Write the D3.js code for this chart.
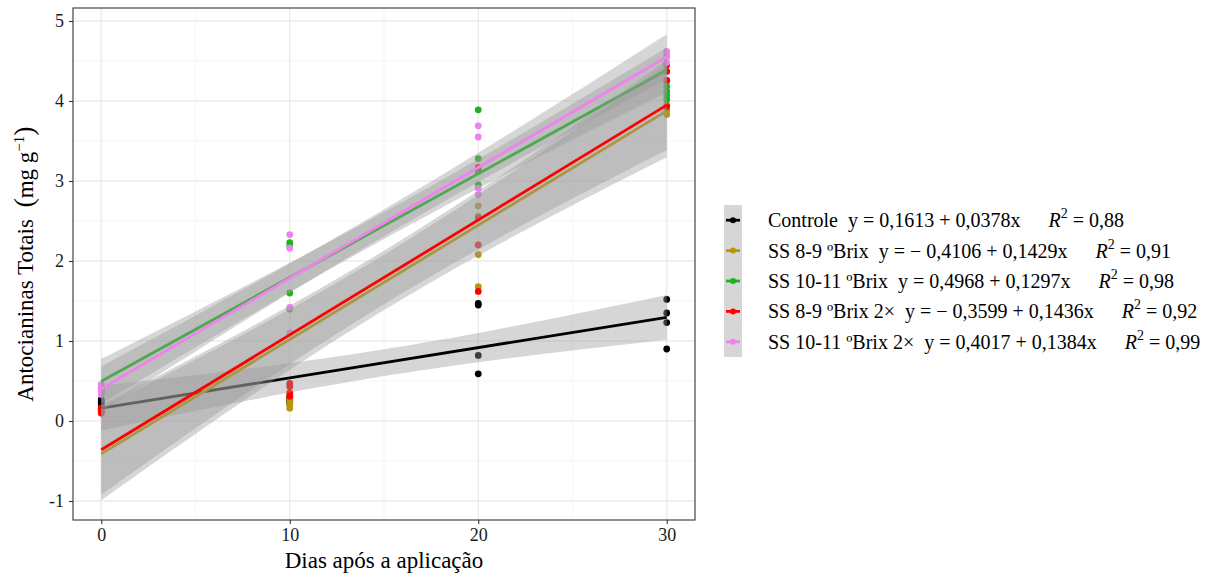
<!DOCTYPE html>
<html>
<head>
<meta charset="utf-8">
<script src="https://cdn.jsdelivr.net/npm/d3@7"></script>
<style>
  body { margin: 0; background: #ffffff; }
  text { font-family: "Liberation Serif", "Times New Roman", serif; white-space: pre; }
</style>
</head>
<body>
<svg id="chart"></svg>
<script>
/* ---- data ---- */
var days = [0, 10, 20, 30]

var series_names = ["Controle", "SS 8-9 ºBrix", "SS 10-11 ºBrix", "SS 8-9 ºBrix 2×", "SS 10-11 ºBrix 2×"]
var series_colors = ["#000000", "#b8960b", "#1fb21f", "#ff0000", "#ee82ee"]

// 4 repetitions per day (days 0, 10, 20, 30)
var controle = [[0.27, 0.25, 0.23, 0.20], [0.30, 0.27, 0.25, 0.22], [1.47, 1.45, 0.82, 0.59], [1.52, 1.35, 1.23, 0.90]]
var ss89 = [[0.15, 0.13, 0.12, 0.10], [0.30, 0.25, 0.20, 0.16], [2.69, 2.56, 2.08, 1.68], [4.24, 3.95, 3.88, 3.83]]
var ss1011 = [[0.45, 0.42, 0.40, 0.38], [2.23, 2.19, 1.60, 1.40], [3.89, 3.28, 3.12, 2.95], [4.18, 4.12, 4.07, 4.02]]
var ss89x2 = [[0.16, 0.14, 0.12, 0.10], [0.47, 0.43, 0.35, 0.31], [3.17, 2.54, 2.20, 1.62], [4.45, 4.37, 4.26, 3.93]]
var ss1011x2 = [[0.45, 0.41, 0.37, 0.33], [2.33, 2.16, 1.42, 1.10], [3.69, 3.55, 2.91, 2.83], [4.62, 4.60, 4.55, 4.48]]

// fitted equations (legend) and confidence band half width at day 0
var intercepts = [0.1613, -0.4106, 0.4968, -0.3599, 0.4017]
var slopes = [0.0378, 0.1429, 0.1297, 0.1436, 0.1384]
var r2 = ["0,88", "0,91", "0,98", "0,92", "0,99"]
var band_hw0 = [0.28, 0.58, 0.28, 0.56, 0.28]

var x_ticks = [0, 10, 20, 30]
var y_ticks = [-1, 0, 1, 2, 3, 4, 5]

var all_values = [controle, ss89, ss1011, ss89x2, ss1011x2]

/* ---- layout ---- */
var width = 1216, height = 573
var panel_left = 73, panel_right = 695, panel_top = 8, panel_bottom = 520

var svg = d3.select("#chart").attr("width", width).attr("height", height)
svg.append("rect").attr("width", width).attr("height", height).attr("fill", "#ffffff")

var x = d3.scaleLinear().domain([-1.5, 31.5]).range([panel_left, panel_right])
var y = d3.scaleLinear().domain([-1.2375, 5.1625]).range([panel_bottom, panel_top])

/* ---- grid ---- */
var grid = svg.append("g")
var minor_x = [5, 15, 25]
var minor_y = [-0.5, 0.5, 1.5, 2.5, 3.5, 4.5]

grid.selectAll(".minx").data(minor_x).enter().append("line")
    .attr("x1", x).attr("x2", x).attr("y1", panel_top).attr("y2", panel_bottom)
    .attr("stroke", "#f2f2f2").attr("stroke-width", 0.8)
grid.selectAll(".miny").data(minor_y).enter().append("line")
    .attr("x1", panel_left).attr("x2", panel_right).attr("y1", y).attr("y2", y)
    .attr("stroke", "#f2f2f2").attr("stroke-width", 0.8)
grid.selectAll(".majx").data(x_ticks).enter().append("line")
    .attr("x1", x).attr("x2", x).attr("y1", panel_top).attr("y2", panel_bottom)
    .attr("stroke", "#ebebeb").attr("stroke-width", 1.4)
grid.selectAll(".majy").data(y_ticks).enter().append("line")
    .attr("x1", panel_left).attr("x2", panel_right).attr("y1", y).attr("y2", y)
    .attr("stroke", "#ebebeb").attr("stroke-width", 1.4)

/* ---- points ---- */
var pts = []
all_values.forEach(function (s, i) {
    s.forEach(function (reps, d) {
        reps.forEach(function (v) { pts.push({ s: i, day: days[d], v: v }) })
    })
})

svg.append("g").selectAll("circle").data(pts).enter().append("circle")
    .attr("cx", function (p) { return x(p.day) })
    .attr("cy", function (p) { return y(p.v) })
    .attr("r", 3.4)
    .attr("fill", function (p) { return series_colors[p.s] })

/* ---- smooth: ribbon then line, per group ---- */
function band_hw(i, t) {
    // half width of the linear fit confidence band (balanced design, 16 obs)
    return band_hw0[i] * Math.sqrt(1 / 16 + (t - 15) * (t - 15) / 2000) / Math.sqrt(1 / 16 + 225 / 2000)
}

var xs = d3.range(0, 30.01, 0.5)
var smooth = svg.append("g")

series_names.forEach(function (name, i) {
    var fit = function (t) { return intercepts[i] + slopes[i] * t }
    var area = d3.area()
        .x(function (t) { return x(t) })
        .y0(function (t) { return y(fit(t) - band_hw(i, t)) })
        .y1(function (t) { return y(fit(t) + band_hw(i, t)) })
    smooth.append("path").datum(xs)
        .attr("d", area)
        .attr("fill", "#999999").attr("fill-opacity", 0.4)
    smooth.append("line")
        .attr("x1", x(0)).attr("y1", y(fit(0)))
        .attr("x2", x(30)).attr("y2", y(fit(30)))
        .attr("stroke", series_colors[i]).attr("stroke-width", 2.8)
})

/* ---- panel border + axes ---- */
svg.append("rect")
    .attr("x", panel_left).attr("y", panel_top)
    .attr("width", panel_right - panel_left).attr("height", panel_bottom - panel_top)
    .attr("fill", "none").attr("stroke", "#333333").attr("stroke-width", 1.1)

var x_axis = svg.append("g").attr("transform", "translate(0," + panel_bottom + ")")
    .call(d3.axisBottom(x).tickValues(x_ticks).tickSize(4).tickPadding(4))
var y_axis = svg.append("g").attr("transform", "translate(" + panel_left + ",0)")
    .call(d3.axisLeft(y).tickValues(y_ticks).tickSize(4).tickPadding(5)
        .tickFormat(function (d) { return d < 0 ? "-" + Math.abs(d) : d }))

svg.selectAll(".domain").remove()
x_axis.attr("font-family", null).attr("font-size", null)
y_axis.attr("font-family", null).attr("font-size", null)
svg.selectAll(".tick line").attr("stroke", "#333333").attr("stroke-width", 1.1)
svg.selectAll(".tick text").attr("fill", "#1a1a1a")
    .style("font-family", "Liberation Serif").style("font-size", "18px")

/* axis titles */
svg.append("text")
    .attr("x", (panel_left + panel_right) / 2).attr("y", 568)
    .attr("text-anchor", "middle").style("font-size", "23px")
    .text("Dias após a aplicação")

var ytitle = svg.append("text")
    .attr("transform", "translate(33," + ((panel_top + panel_bottom) / 2) + ") rotate(-90)")
    .attr("text-anchor", "middle").style("font-size", "23px")
ytitle.append("tspan").text("Antocianinas Totais  ")
ytitle.append("tspan").style("font-size", "28px").text("(")
ytitle.append("tspan").text("mg g")
ytitle.append("tspan").attr("dy", -9).style("font-size", "15px").text("−1")
ytitle.append("tspan").attr("dy", 9).style("font-size", "28px").text(")")

/* ---- legend ---- */
var leg_x = 724, leg_y = 205, key_w = 18, row_h = 30.4
var legend = svg.append("g")

var rows = legend.selectAll(".row").data(series_names).enter().append("g")
    .attr("transform", function (d, i) { return "translate(" + leg_x + "," + (leg_y + i * row_h) + ")" })

rows.append("rect")
    .attr("width", key_w).attr("height", row_h)
    .attr("fill", "#999999").attr("fill-opacity", 0.4)
rows.append("line")
    .attr("x1", 2).attr("x2", key_w - 2)
    .attr("y1", row_h / 2).attr("y2", row_h / 2)
    .attr("stroke", function (d, i) { return series_colors[i] }).attr("stroke-width", 2.8)
rows.append("circle")
    .attr("cx", key_w / 2).attr("cy", row_h / 2).attr("r", 3)
    .attr("fill", function (d, i) { return series_colors[i] })

function fmt_num(v) {
    var s = Math.abs(v).toFixed(4).replace(".", ",")
    return v < 0 ? "− " + s : s
}

var labels = rows.append("text")
    .attr("x", 44).attr("y", row_h / 2 + 7)
    .style("font-size", "20px").attr("fill", "#000000")

labels.append("tspan").text(function (d, i) {
    return d + "  y = " + fmt_num(intercepts[i]) + " + " + fmt_num(slopes[i]) + "x"
})
labels.append("tspan").attr("dx", 28).style("font-style", "italic").text("R")
labels.append("tspan").attr("dy", -9).style("font-size", "14px").text("2")
labels.append("tspan").attr("dy", 9).text(function (d, i) { return " = " + r2[i] })
</script>
</body>
</html>
